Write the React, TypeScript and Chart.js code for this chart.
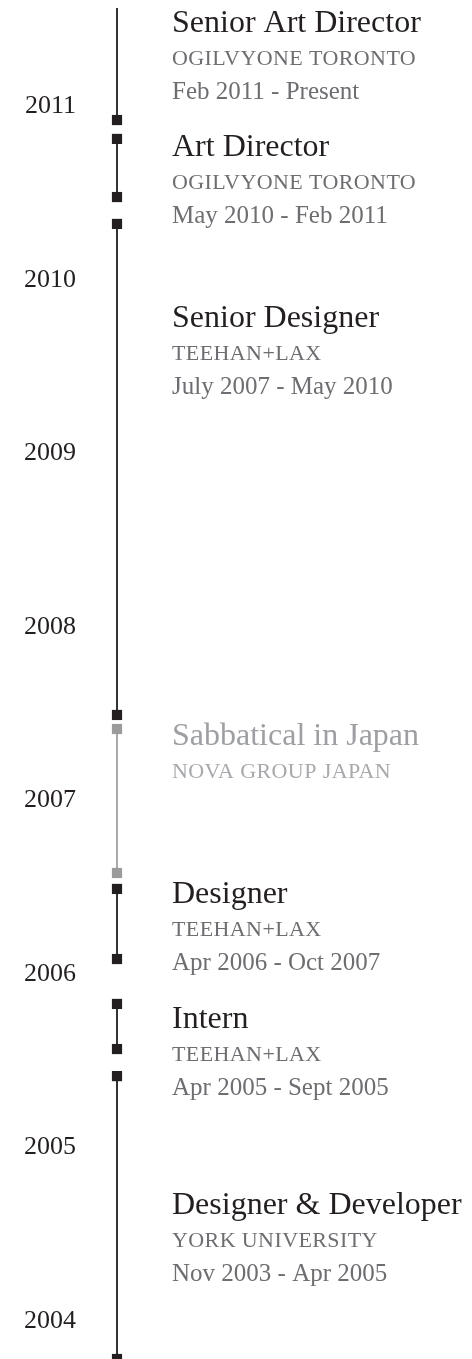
import { useEffect, useRef } from 'react';
import { Chart, registerables } from 'chart.js';

Chart.register(...registerables);

// Year ticks on the timeline axis
const yearTicks = [2004, 2005, 2006, 2007, 2008, 2009, 2010, 2011];

// Roles, top to bottom
const titles = [
  'Senior Art Director',
  'Art Director',
  'Senior Designer',
  'Sabbatical in Japan',
  'Designer',
  'Intern',
  'Designer & Developer',
];
const companies = [
  'OGILVYONE TORONTO',
  'OGILVYONE TORONTO',
  'TEEHAN+LAX',
  'NOVA GROUP JAPAN',
  'TEEHAN+LAX',
  'TEEHAN+LAX',
  'YORK UNIVERSITY',
];
const periods = [
  'Feb 2011 - Present',
  'May 2010 - Feb 2011',
  'July 2007 - May 2010',
  '',
  'Apr 2006 - Oct 2007',
  'Apr 2005 - Sept 2005',
  'Nov 2003 - Apr 2005',
];

// Segment extents on the (drawn) year axis
const segmentEnd = [2011.551, 2010.796, 2010.306, 2007.394, 2006.472, 2005.809, 2005.393];
const segmentStart = [2010.905, 2010.461, 2007.475, 2006.564, 2006.068, 2005.549, 2003.762];
// Where each role's heading sits on the year axis
const labelAt = [2011.41, 2010.70, 2009.71, 2007.30, 2006.39, 2005.67, 2004.60];
const openEnded = [true, false, false, false, false, false, false];
const muted = [false, false, false, true, false, false, false];

const axisMin = 2003.762;
const axisMax = 2011.597;

const FONT = '"Liberation Serif", "Times New Roman", serif';

const textPlugin = {
  id: 'roleText',
  afterDatasetsDraw(chart: any) {
    const { ctx, scales } = chart;
    const xs = scales.x;
    const ys = scales.y;
    const left = xs.getPixelForValue(0) + 55;
    ctx.save();
    ctx.textAlign = 'left';
    ctx.textBaseline = 'alphabetic';
    titles.forEach((t, i) => {
      const base = ys.getPixelForValue(labelAt[i]);
      ctx.letterSpacing = '0px';
      ctx.font = `32px ${FONT}`;
      ctx.fillStyle = muted[i] ? '#9d9fa2' : '#231f20';
      ctx.fillText(t, left, base);
      ctx.letterSpacing = '0.4px';
      ctx.font = `22px ${FONT}`;
      ctx.fillStyle = muted[i] ? '#a7a9ac' : '#6d6e71';
      ctx.fillText(companies[i], left, base + 33);
      if (periods[i]) {
        ctx.letterSpacing = '0px';
        ctx.font = `25px ${FONT}`;
        ctx.fillStyle = '#6d6e71';
        ctx.fillText(periods[i], left, base + 67);
      }
    });
    ctx.restore();
  },
};

export default function App() {
  const ref = useRef<HTMLCanvasElement | null>(null);

  useEffect(() => {
    if (!ref.current) return;
    const datasets = titles.map((t, i) => {
      const lineColor = muted[i] ? '#a7a9ac' : '#333333';
      const markColor = muted[i] ? '#9b9b9b' : '#231f20';
      return {
        label: t,
        data: [
          { x: 0, y: segmentEnd[i] },
          { x: 0, y: segmentStart[i] },
        ],
        borderColor: lineColor,
        borderWidth: 2,
        pointStyle: 'rect',
        pointRadius: [openEnded[i] ? 0 : 7.2, 7.2],
        pointBackgroundColor: markColor,
        pointBorderWidth: 0,
        pointHoverRadius: 0,
        clip: false,
      };
    });

    const chart = new Chart(ref.current, {
      type: 'line',
      data: { datasets: datasets as any },
      plugins: [textPlugin],
      options: {
        animation: false,
        responsive: false,
        events: [],
        layout: { padding: 0, autoPadding: false },
        plugins: { legend: { display: false }, tooltip: { enabled: false } },
        scales: {
          x: { type: 'linear', min: 0, max: 1, display: false },
          y: {
            type: 'linear',
            min: axisMin,
            max: axisMax,
            position: 'left',
            grid: { display: false, drawTicks: false },
            border: { display: false },
            afterBuildTicks: (scale: any) => {
              scale.ticks = yearTicks.map((v) => ({ value: v }));
            },
            afterFit: (scale: any) => {
              scale.width = 117;
              scale.paddingTop = 0;
              scale.paddingBottom = 0;
            },
            ticks: {
              padding: 41,
              labelOffset: 3,
              autoSkip: false,
              color: '#231f20',
              font: { family: FONT, size: 26 },
              callback: (v: any) => String(v),
            },
          },
        },
      } as any,
    });
    return () => chart.destroy();
  }, []);

  return (
    <div style={{ position: 'absolute', left: 0, top: 0, width: 472, height: 1359, background: '#fff' }}>
      <canvas ref={ref} width={472} height={1359} />
    </div>
  );
}
